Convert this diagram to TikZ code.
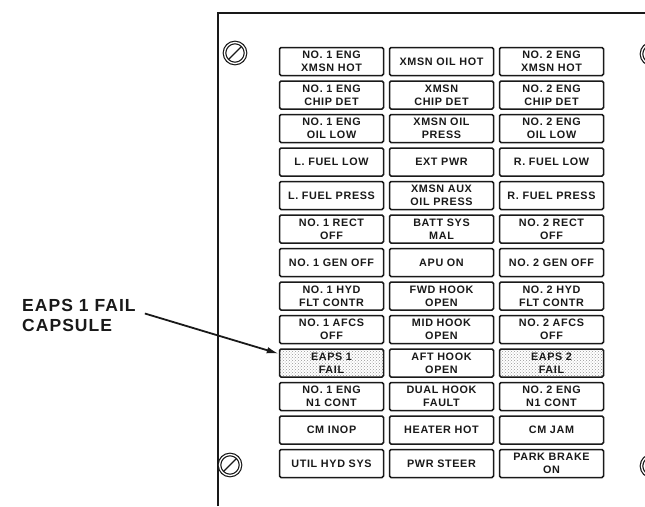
\documentclass[tikz,border=0pt]{standalone}
\usepackage{fontspec}
\setmainfont{Liberation Sans}
\newfontfamily\lampfont[LetterSpace=6]{Liberation Sans}
\usepackage{tikz}
\usetikzlibrary{arrows.meta,positioning,patterns}
\definecolor{ink}{RGB}{25,25,25}
\definecolor{stip}{RGB}{150,150,150}

\begin{document}
\begin{tikzpicture}[x=1pt,y=-1pt,node distance=4pt and 4.5pt,
  lamp/.style={rectangle,rounded corners=1.5pt,draw=ink,line width=1.5pt,minimum height=28pt,
              minimum width=104pt,inner sep=1pt,align=center,text=ink,
              font=\lampfont\bfseries\fontsize{10.8}{12.8}\selectfont},
  caps/.style={lamp,pattern=crosshatch dots,pattern color=stip},
  screw/.style={circle,draw=ink,line width=1.2pt,double=white,double distance=1.3pt,
              minimum size=21pt,inner sep=0pt,
              path picture={\draw[ink,line width=1.4pt] (path picture bounding box.south west)
                            --(path picture bounding box.north east);}},
  arr/.style={-{Latex[length=12pt,width=6.5pt]},line width=1.8pt,draw=ink}]
\useasboundingbox (0,0) rectangle (645,506);
% panel edge and screws
\draw[ink,line width=1.9pt] (218,506) -- (218,13) -- (650,13);
\node[screw] (sc1) at (235,53) {};
\node[screw] (sc2) at (652,54) {};
\node[screw] (sc3) at (230,465) {};
\node[screw] (sc4) at (652,466) {};
% caution capsules
\node[lamp] (a1) at (331.5,61.5) {NO. 1 ENG\\XMSN HOT};
\node[lamp,right=of a1] (b1) {XMSN OIL HOT};
\node[lamp,right=of b1] (c1) {NO. 2 ENG\\XMSN HOT};
\node[lamp,below=of a1] (a2) {NO. 1 ENG\\CHIP DET};
\node[lamp,right=of a2] (b2) {XMSN\\CHIP DET};
\node[lamp,right=of b2] (c2) {NO. 2 ENG\\CHIP DET};
\node[lamp,below=of a2] (a3) {NO. 1 ENG\\OIL LOW};
\node[lamp,right=of a3] (b3) {XMSN OIL\\PRESS};
\node[lamp,right=of b3] (c3) {NO. 2 ENG\\OIL LOW};
\node[lamp,below=of a3] (a4) {L. FUEL LOW};
\node[lamp,right=of a4] (b4) {EXT PWR};
\node[lamp,right=of b4] (c4) {R. FUEL LOW};
\node[lamp,below=of a4] (a5) {L. FUEL PRESS};
\node[lamp,right=of a5] (b5) {XMSN AUX\\OIL PRESS};
\node[lamp,right=of b5] (c5) {R. FUEL PRESS};
\node[lamp,below=of a5] (a6) {NO. 1 RECT\\OFF};
\node[lamp,right=of a6] (b6) {BATT SYS\\MAL};
\node[lamp,right=of b6] (c6) {NO. 2 RECT\\OFF};
\node[lamp,below=of a6] (a7) {NO. 1 GEN OFF};
\node[lamp,right=of a7] (b7) {APU ON};
\node[lamp,right=of b7] (c7) {NO. 2 GEN OFF};
\node[lamp,below=of a7] (a8) {NO. 1 HYD\\FLT CONTR};
\node[lamp,right=of a8] (b8) {FWD HOOK\\OPEN};
\node[lamp,right=of b8] (c8) {NO. 2 HYD\\FLT CONTR};
\node[lamp,below=of a8] (a9) {NO. 1 AFCS\\OFF};
\node[lamp,right=of a9] (b9) {MID HOOK\\OPEN};
\node[lamp,right=of b9] (c9) {NO. 2 AFCS\\OFF};
\node[caps,below=of a9] (a10) {EAPS 1\\FAIL};
\node[lamp,right=of a10] (b10) {AFT HOOK\\OPEN};
\node[caps,right=of b10] (c10) {EAPS 2\\FAIL};
\node[lamp,below=of a10] (a11) {NO. 1 ENG\\N1 CONT};
\node[lamp,right=of a11] (b11) {DUAL HOOK\\FAULT};
\node[lamp,right=of b11] (c11) {NO. 2 ENG\\N1 CONT};
\node[lamp,below=of a11] (a12) {CM INOP};
\node[lamp,right=of a12] (b12) {HEATER HOT};
\node[lamp,right=of b12] (c12) {CM JAM};
\node[lamp,below=of a12] (a13) {UTIL HYD SYS};
\node[lamp,right=of a13] (b13) {PWR STEER};
\node[lamp,right=of b13] (c13) {PARK BRAKE\\ON};
% callout
\node[align=left,anchor=west,inner sep=0pt,text=ink,
      font=\lampfont\bfseries\fontsize{17.5}{20}\selectfont] (cap) at (22,315) {EAPS 1 FAIL\\CAPSULE};
\draw[arr] ([xshift=9pt,yshift=1.5pt]cap.east) -- (a10.170);
\end{tikzpicture}
\end{document}
